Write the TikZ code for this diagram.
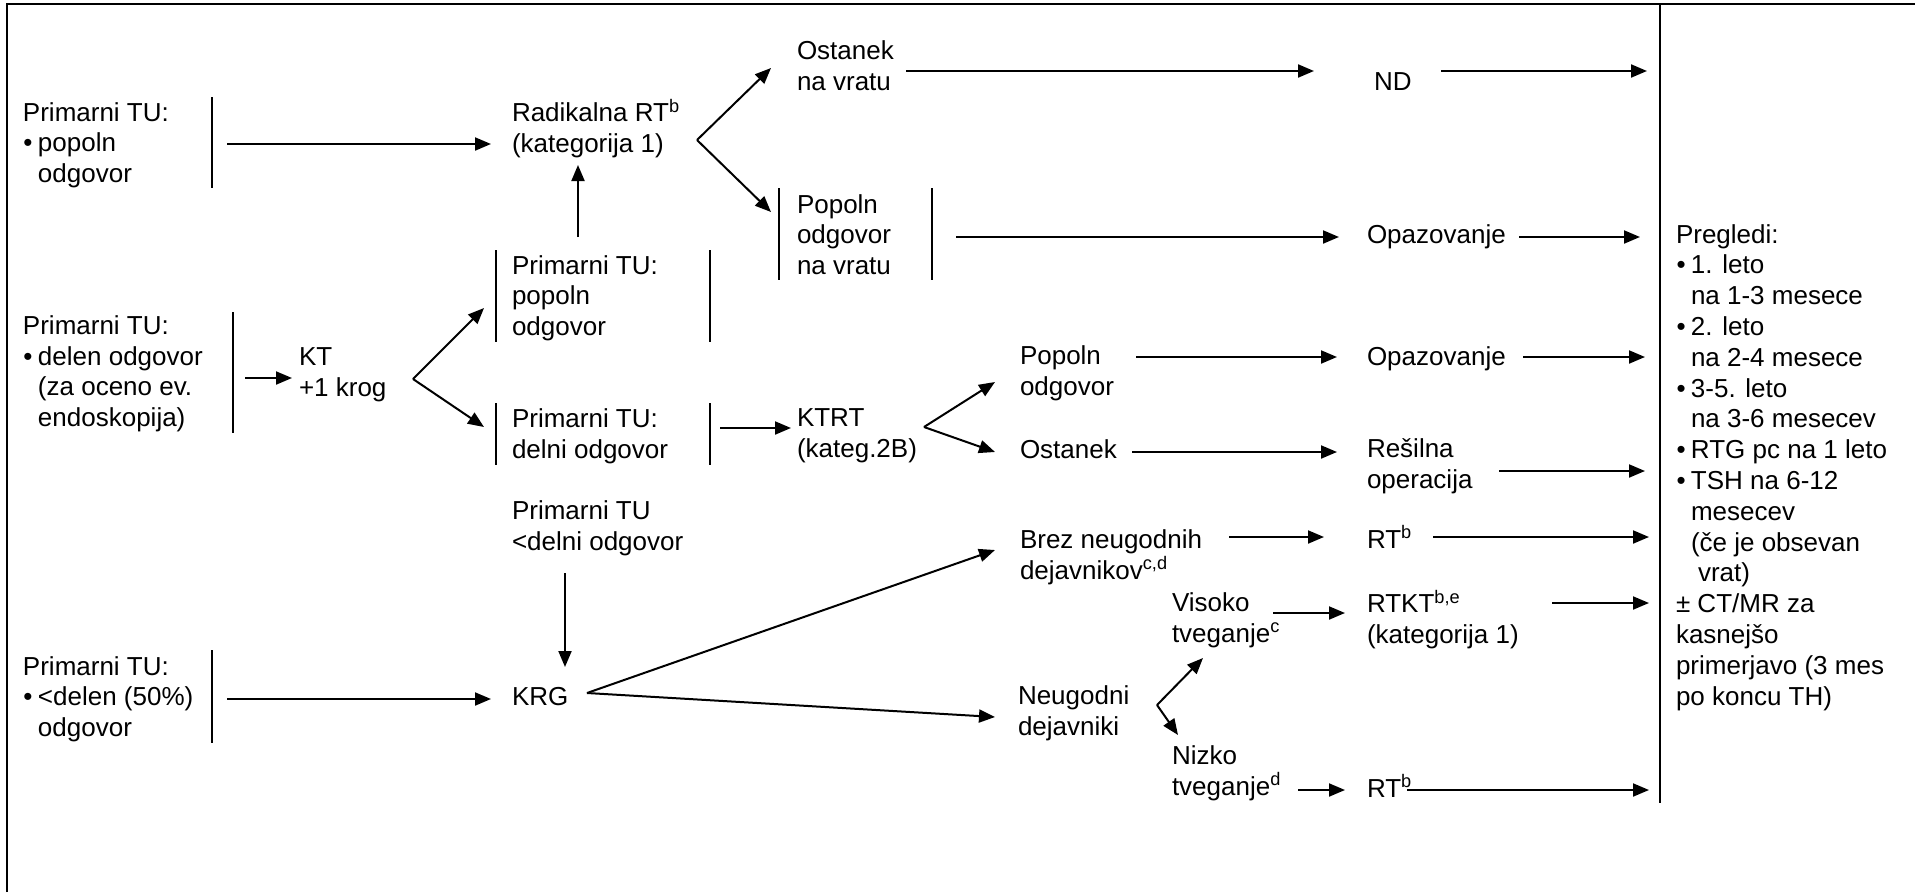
\documentclass[tikz,border=0pt]{standalone}
\usepackage{fontspec}
\setmainfont{Liberation Sans}
\usetikzlibrary{arrows.meta}
% bullet with hanging indent for list items inside nodes
\newcommand\bul{\makebox[15pt][l]{\hspace{0.5pt}•}}
\newcommand\ind{\hspace*{15pt}}
\begin{document}
\begin{tikzpicture}[x=1pt, y=-1pt,
  line width=2pt,
  arr/.style={-{Triangle[length=16pt,width=13pt]}},
  % nodes are placed by the baseline of their last line
  txt/.style={anchor=base west, inner sep=0pt, align=left,
    font=\fontsize{26}{30.5}\selectfont},
  bar/.style={line width=2pt}]
\useasboundingbox (0,0) rectangle (1915,892);

% frame and column divider
\draw[line width=2.6pt] (7,892) -- (7,4) -- (1915,4);
\draw[line width=2.2pt] (1660,4) -- (1660,803);

% ---------- text nodes ----------
\node[txt] (boxA) at (22,182) {Primarni TU:\\\bul popoln\\\ind odgovor};
\node[txt] (rad) at (511,152) {Radikalna RT\textsuperscript{b}\\(kategorija 1)};
\node[txt] (ost1) at (796,90) {Ostanek\\na vratu};
\node[txt] (nd) at (1373,90) {ND};
\node[txt] (popv) at (796,274) {Popoln\\odgovor\\na vratu};
\node[txt] (opaz1) at (1366,243) {Opazovanje};
\node[txt, font=\fontsize{26}{30.8}\selectfont] (preg) at (1675,705)
  {Pregledi:\\
   \bul 1. leto\\
   \ind na 1-3 mesece\\
   \bul 2. leto\\
   \ind na 2-4 mesece\\
   \bul 3-5. leto\\
   \ind na 3-6 mesecev\\
   \bul RTG pc na 1 leto\\
   \bul TSH na 6-12\\
   \ind mesecev\\
   \ind (če je obsevan\\
   \hspace*{22pt}vrat)\\
   ± CT/MR za\\
   kasnejšo\\
   primerjavo (3 mes\\
   po koncu TH)};
\node[txt] (boxD) at (511,335) {Primarni TU:\\popoln\\odgovor};
\node[txt] (boxB) at (22,426) {Primarni TU:\\\bul delen odgovor\\\ind (za oceno ev.\\\ind endoskopija)};
\node[txt] (kt) at (298,396) {KT\\+1 krog};
\node[txt] (boxE) at (511,458) {Primarni TU:\\delni odgovor};
\node[txt] (ktrt) at (796,457) {KTRT\\(kateg.2B)};
\node[txt] (pop2) at (1019,395) {Popoln\\odgovor};
\node[txt] (opaz2) at (1366,365) {Opazovanje};
\node[txt] (ost2) at (1019,458) {Ostanek};
\node[txt] (res) at (1366,488) {Rešilna\\operacija};
\node[txt] (boxF) at (511,550) {Primarni TU\\<delni odgovor};
\node[txt] (brez) at (1019,579) {Brez neugodnih\\dejavnikov\textsuperscript{c,d}};
\node[txt] (rt1) at (1366,548) {RT\textsuperscript{b}};
\node[txt] (visoko) at (1171,642) {Visoko\\tveganje\textsuperscript{c}};
\node[txt] (rtkt) at (1366,643) {RTKT\textsuperscript{b,e}\\(kategorija 1)};
\node[txt] (boxC) at (22,736) {Primarni TU:\\\bul <delen (50\%)\\\ind odgovor};
\node[txt] (krg) at (511,705) {KRG};
\node[txt] (neug) at (1017,735) {Neugodni\\dejavniki};
\node[txt] (nizko) at (1171,795) {Nizko\\tveganje\textsuperscript{d}};
\node[txt] (rt2) at (1366,797) {RT\textsuperscript{b}};

% ---------- side bars of the boxed findings ----------
\draw[bar] (212,97) -- (212,188);
\draw[bar] (233,312) -- (233,433);
\draw[bar] (212,650) -- (212,743);
\draw[bar] (496,250) -- (496,342);  \draw[bar] (710,250) -- (710,342);
\draw[bar] (496,403) -- (496,465);  \draw[bar] (710,403) -- (710,465);
\draw[bar] (779,188) -- (779,280);  \draw[bar] (932,188) -- (932,280);

% ---------- connector end points ----------
\coordinate (boxA-out) at (227,144);  \coordinate (rad-in) at (491,144);
\coordinate (rad-split) at (697,140);
\coordinate (ost1-in) at (771,68);    \coordinate (popv-in) at (771,212);
\coordinate (ost1-out) at (906,71);   \coordinate (nd-in) at (1314,71);
\coordinate (nd-out) at (1441,71);    \coordinate (nd-end) at (1647,71);
\coordinate (popv-out) at (956,237);  \coordinate (opaz1-in) at (1339,237);
\coordinate (opaz1-out) at (1519,237);\coordinate (opaz1-end) at (1640,237);
\coordinate (boxD-out) at (578,237);  \coordinate (rad-in2) at (578,165);
\coordinate (boxB-out) at (245,378);  \coordinate (kt-in) at (292,378);
\coordinate (kt-split) at (413,379);
\coordinate (boxD-in) at (484,308);   \coordinate (boxE-in) at (484,427);
\coordinate (boxE-out) at (720,428);  \coordinate (ktrt-in) at (791,428);
\coordinate (ktrt-split) at (924,427);
\coordinate (pop2-in) at (995,382);   \coordinate (ost2-in) at (995,452);
\coordinate (pop2-out) at (1136,357); \coordinate (opaz2-in) at (1337,357);
\coordinate (opaz2-out) at (1523,357);\coordinate (opaz2-end) at (1645,357);
\coordinate (ost2-out) at (1132,452); \coordinate (res-in) at (1337,452);
\coordinate (res-out) at (1499,471);  \coordinate (res-end) at (1645,471);
\coordinate (boxF-out) at (565,573);  \coordinate (krg-in2) at (565,667);
\coordinate (boxC-out) at (227,699);  \coordinate (krg-in) at (491,699);
\coordinate (krg-split) at (587,693);
\coordinate (brez-in) at (995,550);   \coordinate (neug-in) at (995,717);
\coordinate (brez-out) at (1229,537); \coordinate (rt1-in) at (1324,537);
\coordinate (rt1-out) at (1433,537);  \coordinate (rt1-end) at (1649,537);
\coordinate (neug-split) at (1157,705);
\coordinate (visoko-in) at (1203,658);\coordinate (nizko-in) at (1178,735);
\coordinate (visoko-out) at (1273,613);\coordinate (rtkt-in) at (1345,613);
\coordinate (rtkt-out) at (1552,603); \coordinate (rtkt-end) at (1649,603);
\coordinate (nizko-out) at (1298,790);\coordinate (rt2-in) at (1345,790);
\coordinate (rt2-out) at (1407,790);  \coordinate (rt2-end) at (1649,790);

% ---------- connectors ----------
\draw[arr] (boxA-out) -- (rad-in);
\draw[arr] (rad-split) -- (ost1-in);
\draw[arr] (rad-split) -- (popv-in);
\draw[arr] (ost1-out) -- (nd-in);
\draw[arr] (nd-out) -- (nd-end);
\draw[arr] (popv-out) -- (opaz1-in);
\draw[arr] (opaz1-out) -- (opaz1-end);
\draw[arr] (boxD-out) -- (rad-in2);
\draw[arr] (boxB-out) -- (kt-in);
\draw[arr] (kt-split) -- (boxD-in);
\draw[arr] (kt-split) -- (boxE-in);
\draw[arr] (boxE-out) -- (ktrt-in);
\draw[arr] (ktrt-split) -- (pop2-in);
\draw[arr] (ktrt-split) -- (ost2-in);
\draw[arr] (pop2-out) -- (opaz2-in);
\draw[arr] (opaz2-out) -- (opaz2-end);
\draw[arr] (ost2-out) -- (res-in);
\draw[arr] (res-out) -- (res-end);
\draw[arr] (boxF-out) -- (krg-in2);
\draw[arr] (boxC-out) -- (krg-in);
\draw[arr] (krg-split) -- (brez-in);
\draw[arr] (krg-split) -- (neug-in);
\draw[arr] (brez-out) -- (rt1-in);
\draw[arr] (rt1-out) -- (rt1-end);
\draw[arr] (neug-split) -- (visoko-in);
\draw[arr] (neug-split) -- (nizko-in);
\draw[arr] (visoko-out) -- (rtkt-in);
\draw[arr] (rtkt-out) -- (rtkt-end);
\draw[arr] (nizko-out) -- (rt2-in);
\draw[arr] (rt2-out) -- (rt2-end);
\end{tikzpicture}
\end{document}
